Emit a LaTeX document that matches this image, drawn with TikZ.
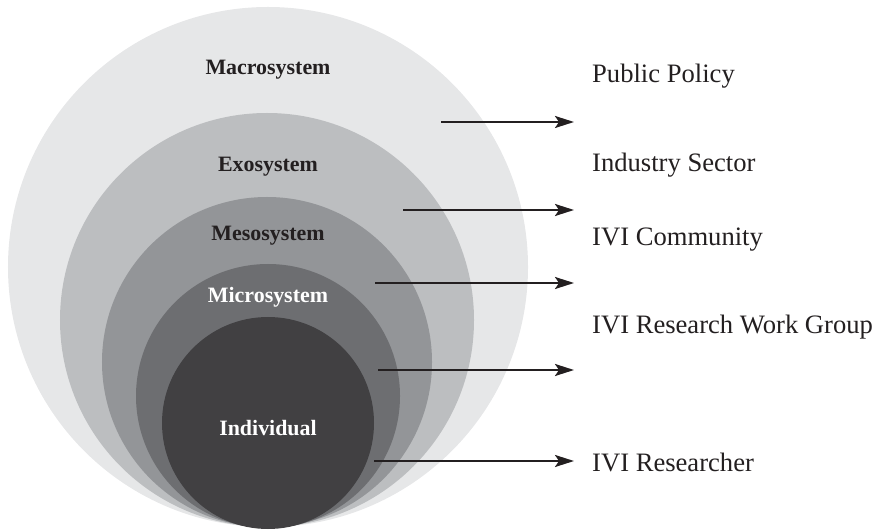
\documentclass[tikz,border=0pt]{standalone}
\usepackage{fontspec}
\setmainfont{Liberation Serif}
\usetikzlibrary{arrows.meta}
\definecolor{cmacro}{HTML}{E6E7E8}
\definecolor{cexo}{HTML}{BCBEC0}
\definecolor{cmeso}{HTML}{939598}
\definecolor{cmicro}{HTML}{6D6E71}
\definecolor{cindiv}{HTML}{414042}
\definecolor{cink}{HTML}{231F20}
\tikzset{
  ring/.style={circle, draw=none, inner sep=0pt, minimum size=#1},
  sysname/.style={font=\fontsize{22}{25}\selectfont\bfseries, inner sep=0pt, anchor=base},
  outname/.style={font=\fontsize{26.7}{30}\selectfont, text=cink, inner sep=0pt, anchor=base west},
  linkarrow/.style={draw=cink, line width=2.2bp, -{Stealth[length=19bp,width=12bp,inset=4bp]}}
}
\begin{document}
\begin{tikzpicture}[x=1bp,y=-1bp]
\useasboundingbox (0,0) rectangle (873,530);
% rings
\node[ring=520bp, fill=cmacro] (macro) at (268,267) {};
\node[ring=414bp, fill=cexo] (exo) at (267,320) {};
\node[ring=330bp, fill=cmeso] (meso) at (267,362) {};
\node[ring=264bp, fill=cmicro] (micro) at (268,396) {};
\node[ring=212bp, fill=cindiv] (indiv) at (268,423) {};
% ring labels
\node[sysname, text=cink] (lmacro) at (268,75) {Macrosystem};
\node[sysname, text=cink] (lexo) at (268,172) {Exosystem};
\node[sysname, text=cink] (lmeso) at (268,241) {Mesosystem};
\node[sysname, text=white] (lmicro) at (268,303) {Microsystem};
\node[sysname, text=white] (lindiv) at (268,435) {Individual};
% outside labels
\node[outname] (tpolicy) at (592,83) {Public Policy};
\node[outname] (tindustry) at (592,172) {Industry Sector};
\node[outname] (tcommunity) at (592,246) {IVI Community};
\node[outname] (tgroup) at (592,334) {IVI Research Work Group};
\node[outname] (tresearcher) at (592,471) {IVI Researcher};
% arrow ends
\coordinate (s1) at (441,122); \coordinate (e1) at (574,122);
\coordinate (s2) at (403,210); \coordinate (e2) at (574,210);
\coordinate (s3) at (375,283); \coordinate (e3) at (574,283);
\coordinate (s4) at (378,370); \coordinate (e4) at (574,370);
\coordinate (s5) at (374,461); \coordinate (e5) at (574,461);
\draw[linkarrow] (s1) -- (e1);
\draw[linkarrow] (s2) -- (e2);
\draw[linkarrow] (s3) -- (e3);
\draw[linkarrow] (s4) -- (e4);
\draw[linkarrow] (s5) -- (e5);
\end{tikzpicture}
\end{document}
